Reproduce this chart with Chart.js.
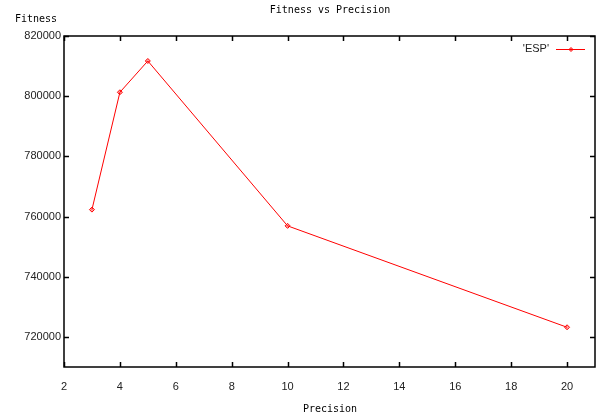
<!DOCTYPE html>
<html>
<head>
<meta charset="utf-8">
<script src="https://cdn.jsdelivr.net/npm/chart.js@4/dist/chart.umd.min.js"></script>
<style>
html,body{margin:0;padding:0;background:#fff;}
#wrap{width:600px;height:417px;position:relative;}
</style>
</head>
<body>
<div id="wrap"><canvas id="c" width="600" height="417"></canvas></div>
<script>
const precision = [3, 4, 5, 10, 20];
const espFitness = [762300, 801300, 811700, 756900, 723200];
const xTicks = [2, 4, 6, 8, 10, 12, 14, 16, 18, 20];
const yTicks = [720000, 740000, 760000, 780000, 800000, 820000];
const seriesLabel = "'ESP'";
const titleText = "Fitness vs Precision";
const xTitle = "Precision";
const yTitle = "Fitness";

const monoFont = '10px "DejaVu Sans Mono", "Liberation Mono", monospace';

const gnuPlugin = {
  id: 'gnu',
  afterDraw(chart) {
    const ctx = chart.ctx;
    const a = chart.chartArea;
    const xs = chart.scales.x, ys = chart.scales.y;
    ctx.save();
    ctx.strokeStyle = '#000';
    ctx.lineWidth = 1.5;
    ctx.strokeRect(a.left, a.top, a.right - a.left, a.bottom - a.top);
    ctx.beginPath();
    const tl = 5;
    xTicks.forEach(v => {
      const px = Math.round(xs.getPixelForValue(v)) + 0.5;
      ctx.moveTo(px, a.bottom); ctx.lineTo(px, a.bottom - tl);
      ctx.moveTo(px, a.top); ctx.lineTo(px, a.top + tl);
    });
    yTicks.forEach(v => {
      const py = Math.round(ys.getPixelForValue(v)) + 0.5;
      ctx.moveTo(a.left, py); ctx.lineTo(a.left + tl, py);
      ctx.moveTo(a.right, py); ctx.lineTo(a.right - tl, py);
    });
    ctx.stroke();
    ctx.fillStyle = '#000';
    ctx.font = monoFont;
    ctx.textBaseline = 'middle';
    ctx.textAlign = 'center';
    ctx.fillText(titleText, 330, 10);
    ctx.fillText(xTitle, 330, 409);
    ctx.textAlign = 'left';
    ctx.fillText(yTitle, 15, 19);
    const ds = chart.data.datasets[0];
    ctx.font = '11px "Liberation Sans", Arial, sans-serif';
    ctx.textAlign = 'right';
    ctx.fillStyle = '#222';
    ctx.fillText(seriesLabel, 549, 49);
    ctx.strokeStyle = ds.borderColor;
    ctx.lineWidth = 1;
    ctx.beginPath();
    ctx.moveTo(556, 49.5); ctx.lineTo(585, 49.5);
    ctx.stroke();
    ctx.beginPath();
    ctx.moveTo(571, 47.5); ctx.lineTo(573, 49.5); ctx.lineTo(571, 51.5); ctx.lineTo(569, 49.5); ctx.closePath();
    ctx.fillStyle = 'rgba(255,0,0,0.35)';
    ctx.fill(); ctx.stroke();
    ctx.restore();
  }
};

new Chart(document.getElementById('c'), {
  type: 'line',
  data: {
    datasets: [{
      label: seriesLabel,
      data: precision.map((x, i) => ({x: x, y: espFitness[i]})),
      borderColor: '#ff0000',
      backgroundColor: 'rgba(255,0,0,0.35)',
      borderWidth: 1,
      pointStyle: 'rectRot',
      pointRadius: 2.5,
      pointBorderWidth: 1,
      tension: 0,
      fill: false
    }]
  },
  options: {
    responsive: false,
    animation: false,
    layout: {padding: {left: 0, right: 3, top: 36, bottom: 0}},
    plugins: {legend: {display: false}, title: {display: false}, tooltip: {enabled: false}},
    scales: {
      x: {
        type: 'linear', min: 2, max: 21,
        afterBuildTicks: s => { s.ticks = xTicks.map(v => ({value: v})); },
        afterFit: s => { s.height = 50; },
        grid: {display: false, drawTicks: false},
        border: {display: false},
        ticks: {padding: 13, color: '#222', font: {family: '"Liberation Sans", Arial, sans-serif', size: 11}, maxRotation: 0, autoSkip: false}
      },
      y: {
        type: 'linear', min: 710000, max: 820000,
        afterBuildTicks: s => { s.ticks = yTicks.map(v => ({value: v})); },
        afterFit: s => { s.width = 64; },
        grid: {display: false, drawTicks: false},
        border: {display: false},
        ticks: {padding: 3, color: '#222', font: {family: '"Liberation Sans", Arial, sans-serif', size: 11}, callback: v => String(v)}
      }
    }
  },
  plugins: [gnuPlugin]
});
</script>
</body>
</html>
